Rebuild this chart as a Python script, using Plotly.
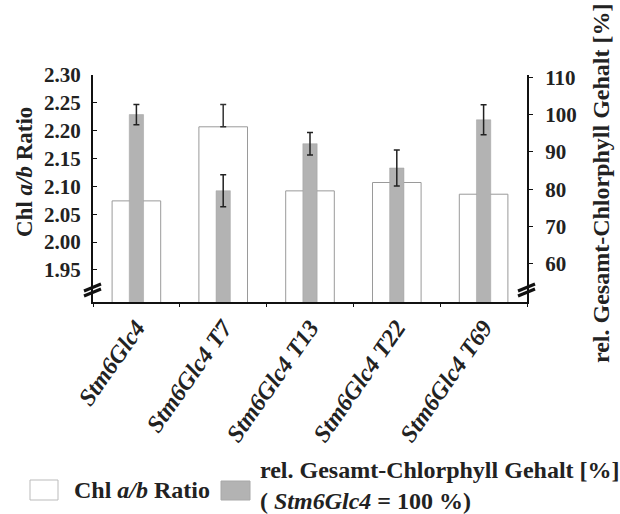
import plotly.graph_objects as go

# ---- data ----
categories = ["Stm6Glc4", "Stm6Glc4 T7", "Stm6Glc4 T13", "Stm6Glc4 T22", "Stm6Glc4 T69"]
ratio = [2.074, 2.207, 2.092, 2.107, 2.086]
ratio_err = [0.01, 0.04, 0.01, 0.01, 0.01]
chl = [100.0, 79.6, 92.2, 85.7, 98.6]
chl_err = [2.7, 4.3, 3.0, 4.8, 4.0]
left_ticks = [1.95, 2.00, 2.05, 2.10, 2.15, 2.20, 2.25, 2.30]
right_ticks = [60, 70, 80, 90, 100, 110]

W, H = 620, 514
L, R, T, B = 93, 93, 75, 212
pw, ph = W - L - R, H - T - B

def px(x):
    return (x - L) / pw

def py(y):
    return (H - B - y) / ph

FONT = "Liberation Serif"
TXT = "#222"

def f(size):
    return dict(size=size, family=FONT, color=TXT, weight="bold")

fig = go.Figure()
fig.add_trace(go.Bar(
    x=categories, y=ratio, width=0.56, name="Chl a/b Ratio",
    marker=dict(color="white", line=dict(color="#9a9a9a", width=1)),
    error_y=dict(type="data", array=ratio_err, arrayminus=[0] * len(ratio_err), symmetric=False,
                 visible=True, color="#333", thickness=1.5, width=3),
    yaxis="y",
))
fig.add_trace(go.Bar(
    x=categories, y=chl, width=0.165, name="rel. Gesamt-Chlorphyll Gehalt [%]",
    marker=dict(color="#b3b3b3", line=dict(color="#a0a0a0", width=0.5)),
    error_y=dict(type="data", array=chl_err, visible=True, color="#222", thickness=1.5, width=3),
    yaxis="y2",
))

fig.update_layout(
    width=W, height=H,
    margin=dict(l=L, r=R, t=T, b=B, pad=0),
    paper_bgcolor="white", plot_bgcolor="white",
    barmode="overlay", showlegend=False,
    font=f(21),
    xaxis=dict(
        type="category", range=[-0.5, 4.5], tickmode="array", tickvals=categories,
        ticktext=["<i>%s</i>" % c for c in categories],
        tickangle=-55, tickfont=f(24),
        showline=True, linecolor="#111", linewidth=2, ticks="outside", tickson="boundaries",
        ticklen=3, tickcolor="#111", showgrid=False, zeroline=False,
    ),
    yaxis=dict(
        range=[1.8925, 2.30], tickmode="array", tickvals=left_ticks,
        ticktext=["%.2f" % v for v in left_ticks],
        tickfont=f(21),
        showline=True, linecolor="#111", linewidth=2, ticks="inside", ticklen=4, tickcolor="#111",
        showgrid=False, zeroline=False, ticklabelstandoff=6,
    ),
    yaxis2=dict(
        range=[49.8, 110.6], overlaying="y", side="right", tickmode="array", tickvals=right_ticks,
        ticktext=["%d" % v for v in right_ticks],
        tickfont=f(21),
        showline=True, linecolor="#111", linewidth=2, ticks="outside", ticklen=4, tickcolor="#111",
        showgrid=False, zeroline=False, ticklabelstandoff=8,
    ),
)

annotations = [
    dict(text="Chl <i>a/b</i> Ratio", x=px(24), y=py(172), xref="paper", yref="paper",
         textangle=-90, showarrow=False, font=f(23), xanchor="center", yanchor="middle"),
    dict(text="rel. Gesamt-Chlorphyll Gehalt [%]", x=px(601), y=py(183), xref="paper", yref="paper",
         textangle=-90, showarrow=False, font=f(24), xanchor="center", yanchor="middle"),
    dict(text="Chl <i>a/b</i> Ratio", x=px(72), y=py(490), xref="paper", yref="paper",
         showarrow=False, font=f(24), xanchor="left", yanchor="middle"),
    dict(text="rel. Gesamt-Chlorphyll Gehalt [%]<br>( <i>Stm6Glc4</i> = 100 %)", x=px(258), y=py(485),
         xref="paper", yref="paper", align="left",
         showarrow=False, font=f(24), xanchor="left", yanchor="middle"),
]
fig.update_layout(annotations=annotations)

shapes = [
    # legend boxes
    dict(type="rect", xref="paper", yref="paper", x0=px(30), x1=px(58), y0=py(500), y1=py(480),
         line=dict(color="#bbbbbb", width=1), fillcolor="white"),
    dict(type="rect", xref="paper", yref="paper", x0=px(221), x1=px(250), y0=py(500), y1=py(481),
         line=dict(color="#a8a8a8", width=1), fillcolor="#b3b3b3"),
]
# axis break marks
for xa in (0.0, 1.0):
    for off in (-3, 2):
        shapes.append(dict(
            type="line", xref="paper", yref="paper", xsizemode="pixel", ysizemode="pixel",
            xanchor=xa, yanchor=py(288), x0=-9, x1=8, y0=-5 + off, y1=2 + off,
            line=dict(color="#111", width=3),
        ))
fig.update_layout(shapes=shapes)

fig.write_html("out.html")
